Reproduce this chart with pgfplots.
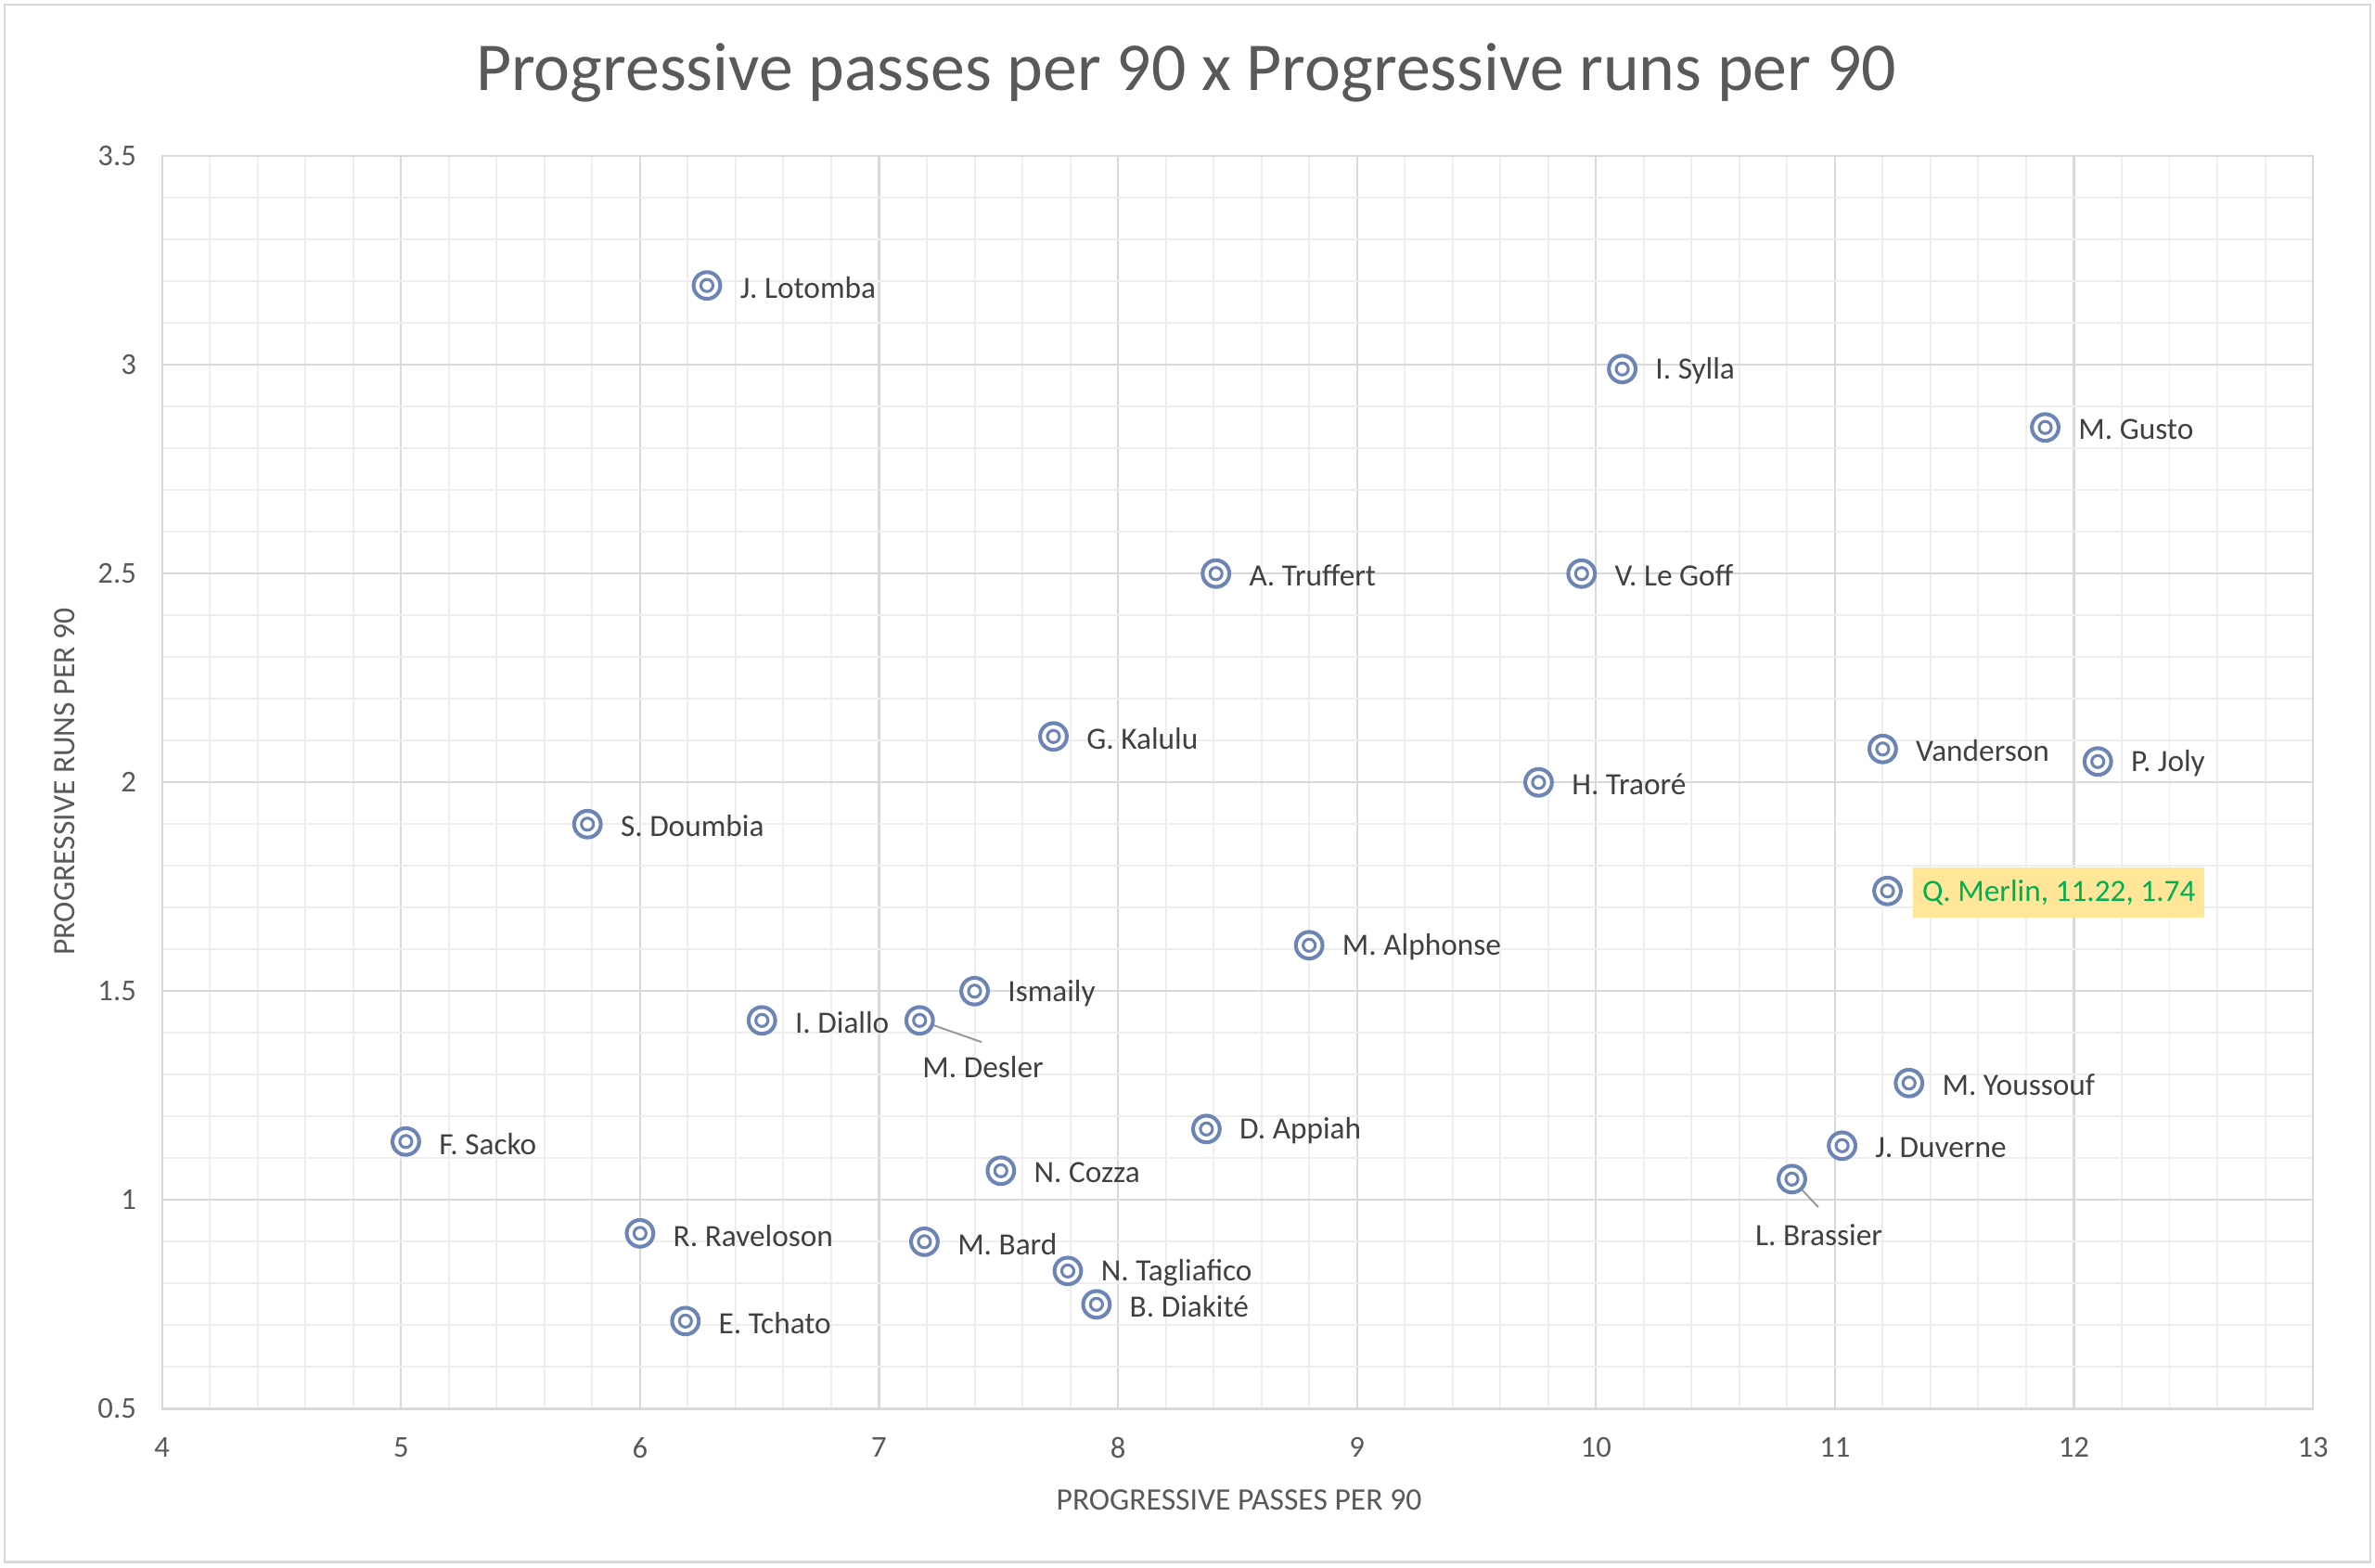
\documentclass[border=0pt]{standalone}
\usepackage{fontspec}
\setmainfont{Carlito}
\usepackage{pgfplots}
\usepackage{pgfplotstable}
\pgfplotsset{compat=1.18}
\definecolor{txt}{HTML}{595959}
\definecolor{lbl}{HTML}{404040}
\definecolor{mk}{HTML}{6C84B6}
\definecolor{majgrid}{HTML}{D9D9D9}
\definecolor{mingrid}{HTML}{EEEEEE}
\definecolor{hl}{HTML}{FFE699}
\definecolor{grn}{HTML}{00B050}

\pgfplotstableread[col sep=semicolon]{
x;y;dx;dy;name
6.28;3.19;10.5;-0.7;J. Lotomba
10.11;2.99;10.5;-0.7;I. Sylla
11.88;2.85;10.5;-0.7;M. Gusto
8.41;2.50;10.5;-0.7;A. Truffert
9.94;2.50;10.5;-0.7;V. Le Goff
7.73;2.11;10.5;-0.7;G. Kalulu
11.20;2.08;10.5;-0.7;Vanderson
12.10;2.05;10.5;-0.7;P. Joly
9.76;2.00;10.5;-0.7;H. Traoré
5.78;1.90;10.5;-0.7;S. Doumbia
8.80;1.61;10.5;-0.7;M. Alphonse
7.40;1.50;10.5;-0.7;Ismaily
6.51;1.43;10.5;-0.7;I. Diallo
7.17;1.43;0.5;-15.5;M. Desler
11.31;1.28;10.5;-0.7;M. Youssouf
8.37;1.17;10.5;-0.7;D. Appiah
5.02;1.14;10.5;-0.7;F. Sacko
11.03;1.13;10.5;-0.7;J. Duverne
7.51;1.07;10.5;-0.7;N. Cozza
10.82;1.05;-12.5;-18.5;L. Brassier
6.00;0.92;10.5;-0.7;R. Raveloson
7.19;0.90;10.5;-0.7;M. Bard
7.79;0.83;10.5;-0.7;N. Tagliafico
7.91;0.75;10.5;-0.7;B. Diakité
6.19;0.71;10.5;-0.7;E. Tchato
}\players

\begin{document}
\begin{tikzpicture}
\useasboundingbox (-53.5pt,-52.5pt) rectangle (730.5pt,465pt);
\draw[majgrid, line width=0.8pt, fill=white] (-52pt,-50.5pt) rectangle (729pt,463.5pt);
\begin{axis}[
  at={(0pt,0pt)}, anchor=south west,
  scale only axis, width=710pt, height=413.5pt,
  xmin=4, xmax=13, ymin=0.5, ymax=3.5,
  xtick={4,5,...,13}, ytick={0.5,1,...,3.5},
  minor x tick num=4, minor y tick num=4,
  grid=both,
  major grid style={majgrid, line width=0.7pt},
  minor grid style={mingrid, line width=0.6pt},
  axis line style={majgrid, line width=0.7pt},
  tick style={draw=none},
  /pgf/number format/assume math mode=true,
  ticklabel style={font=\fontsize{10}{12}\selectfont, text=txt},
  xticklabel style={yshift=-6pt},
  yticklabel style={xshift=-5pt},
  clip=false,
]
\addplot[only marks, mark=*, mark size=4.4pt, mark options={line width=1.25pt, draw=mk, fill=white}] table[x=x, y=y] {\players};
\addplot[only marks, mark=*, mark size=4.4pt, mark options={line width=1.25pt, draw=mk, fill=white}] coordinates {(11.22,1.74)};
\draw[gray!80, line width=0.6pt] (axis cs:7.17,1.43) -- (axis cs:7.43,1.378);
\draw[gray!80, line width=0.6pt] (axis cs:10.82,1.05) -- (axis cs:10.93,0.983);
\addplot[only marks, mark=o, mark size=2pt, mark options={line width=0.95pt, draw=mk},
  nodes near coords, point meta=explicit symbolic,
  visualization depends on={\thisrow{dx} \as \dx},
  visualization depends on={\thisrow{dy} \as \dy},
  nodes near coords style={anchor=west, inner sep=0pt, xshift=\dx pt, yshift=\dy pt,
    font=\fontsize{10.2}{12}\selectfont, text=lbl}]
  table[x=x, y=y, meta=name] {\players};
\addplot[only marks, mark=o, mark size=2pt, mark options={line width=0.95pt, draw=mk},
  nodes near coords={Q. Merlin, 11.22, 1.74},
  nodes near coords style={anchor=west, inner xsep=3pt, inner ysep=4pt, xshift=8pt, yshift=-0.5pt, fill=hl,
    font=\fontsize{10.2}{12}\selectfont, text=grn}]
  coordinates {(11.22,1.74)};
\end{axis}
\node[font=\fontsize{22.6}{27}\selectfont, text=txt] at (338pt,441pt) {Progressive passes per 90 x Progressive runs per 90};
\node[font=\fontsize{10.3}{12}\selectfont, text=txt] at (355.5pt,-30pt) {PROGRESSIVE PASSES PER 90};
\node[font=\fontsize{10.3}{12}\selectfont, text=txt, rotate=90] at (-32pt,207pt) {PROGRESSIVE RUNS PER 90};
\end{tikzpicture}
\end{document}
